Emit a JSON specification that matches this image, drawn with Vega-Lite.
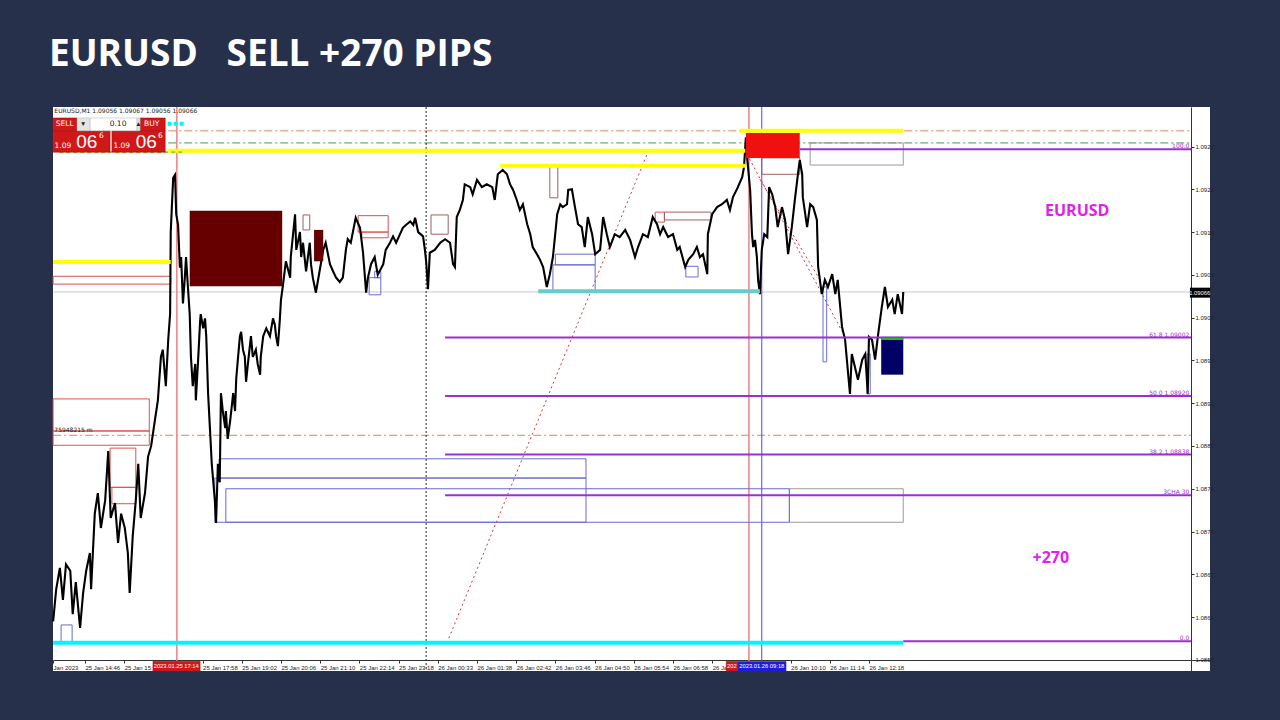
{
"$schema": "https://vega.github.io/schema/vega-lite/v6.json",
"width": 1157, "height": 564,
"autosize": "none",
"padding": {"left": 53, "top": 107, "right": 70, "bottom": 49},
"background": "#26304A",
"title": {"text": "EURUSD\u00a0\u00a0 SELL +270 PIPS", "anchor": "start", "color": "#FFFFFF", "font": "Open Sans", "fontSize": 37, "fontWeight": "bold", "offset": 3, "baseline": "alphabetic", "frame": "bounds"},
"config": {"view": {"fill": "#FFFFFF", "stroke": null}},
"datasets": {
"price": [
{"bar":12,"price":1.08604},{"bar":17,"price":1.08649},{"bar":23,"price":1.08679},{"bar":28,"price":1.08634},{"bar":33,"price":1.08684},{"bar":40,"price":1.08675},{"bar":44,"price":1.08614},{"bar":49,"price":1.08659},{"bar":56,"price":1.08595},{"bar":61,"price":1.08644},{"bar":66,"price":1.08675},{"bar":72,"price":1.087},{"bar":74,"price":1.08649},{"bar":80,"price":1.08755},{"bar":85,"price":1.08784},{"bar":90,"price":1.08735},{"bar":97,"price":1.08774},{"bar":102,"price":1.08843},{"bar":106,"price":1.08749},{"bar":113,"price":1.0877},{"bar":118,"price":1.08714},{"bar":123,"price":1.08755},{"bar":129,"price":1.08735},{"bar":134,"price":1.087},{"bar":137,"price":1.08644},{"bar":142,"price":1.08724},{"bar":147,"price":1.08774},{"bar":151,"price":1.08825},{"bar":155,"price":1.08749},{"bar":162,"price":1.08784},{"bar":167,"price":1.08835},{"bar":172,"price":1.0885},{"bar":178,"price":1.08885},{"bar":183,"price":1.08914},{"bar":188,"price":1.08975},{"bar":191,"price":1.08985},{"bar":196,"price":1.08934},{"bar":200,"price":1.09},{"bar":203,"price":1.09035},{"bar":204,"price":1.0915},{"bar":208,"price":1.09226},{"bar":211,"price":1.0923},{"bar":213,"price":1.09175},{"bar":216,"price":1.0916},{"bar":219,"price":1.091},{"bar":221,"price":1.09115},{"bar":224,"price":1.0905},{"bar":227,"price":1.09086},{"bar":229,"price":1.09115},{"bar":232,"price":1.09074},{"bar":235,"price":1.09035},{"bar":237,"price":1.08975},{"bar":240,"price":1.08934},{"bar":244,"price":1.08965},{"bar":245,"price":1.08914},{"bar":249,"price":1.08975},{"bar":252,"price":1.09025},{"bar":253,"price":1.09035},{"bar":257,"price":1.09015},{"bar":260,"price":1.09029},{"bar":262,"price":1.09004},{"bar":265,"price":1.08924},{"bar":268,"price":1.08875},{"bar":271,"price":1.08825},{"bar":276,"price":1.08774},{"bar":278,"price":1.08742},
{"bar":281,"price":1.08825},{"bar":284,"price":1.08799},{"bar":286,"price":1.08924},{"bar":289,"price":1.08899},{"bar":293,"price":1.08875},{"bar":294,"price":1.08899},{"bar":297,"price":1.0886},{"bar":301,"price":1.08885},{"bar":306,"price":1.08924},{"bar":309,"price":1.08899},{"bar":311,"price":1.08945},{"bar":314,"price":1.08975},{"bar":317,"price":1.09004},{"bar":319,"price":1.0901},{"bar":322,"price":1.08985},{"bar":325,"price":1.08975},{"bar":327,"price":1.0894},{"bar":330,"price":1.08965},{"bar":335,"price":1.09004},{"bar":338,"price":1.08975},{"bar":343,"price":1.08985},{"bar":346,"price":1.08965},{"bar":350,"price":1.0895},{"bar":351,"price":1.08975},{"bar":355,"price":1.09004},{"bar":360,"price":1.09015},{"bar":366,"price":1.09004},{"bar":371,"price":1.09029},{"bar":374,"price":1.0902},{"bar":376,"price":1.09004},{"bar":379,"price":1.0899},{"bar":382,"price":1.09025},{"bar":384,"price":1.09055},{"bar":387,"price":1.09074},{"bar":392,"price":1.09109},{"bar":399,"price":1.09086},{"bar":400,"price":1.09115},{"bar":407,"price":1.09175},{"bar":409,"price":1.09125},{"bar":415,"price":1.0915},{"bar":417,"price":1.09115},{"bar":420,"price":1.09135},{"bar":425,"price":1.09095},{"bar":431,"price":1.09135},{"bar":433,"price":1.09105},{"bar":436,"price":1.09086},{"bar":441,"price":1.09065},{"bar":448,"price":1.091},{"bar":453,"price":1.09125},{"bar":457,"price":1.09135},{"bar":464,"price":1.09105},{"bar":469,"price":1.09095},{"bar":474,"price":1.09086},{"bar":480,"price":1.0908},{"bar":485,"price":1.09086},{"bar":490,"price":1.09125},{"bar":493,"price":1.0914},{"bar":498,"price":1.09135},{"bar":506,"price":1.0917},{"bar":513,"price":1.09156},{"bar":518,"price":1.09121},{"bar":523,"price":1.09065},{"bar":526,"price":1.09086},{"bar":531,"price":1.09105},{"bar":537,"price":1.09115},{"bar":542,"price":1.0909},{"bar":551,"price":1.09105},{"bar":555,"price":1.09125},{"bar":562,"price":1.09135},{"bar":567,"price":1.09144},{"bar":572,"price":1.09135},{"bar":583,"price":1.09156},{"bar":588,"price":1.0916},{"bar":595,"price":1.09165},{"bar":600,"price":1.0916},{"bar":603,"price":1.0917},{"bar":608,"price":1.0915},{"bar":616,"price":1.09144},{"bar":619,"price":1.09125},{"bar":621,"price":1.09109},{"bar":624,"price":1.0907},{"bar":627,"price":1.09121},{"bar":635,"price":1.09125},{"bar":644,"price":1.09135},{"bar":652,"price":1.0914},{"bar":660,"price":1.09135},{"bar":665,"price":1.09105},
{"bar":668,"price":1.09101},{"bar":671,"price":1.09171},{"bar":676,"price":1.09181},{"bar":681,"price":1.09195},{"bar":684,"price":1.09217},{"bar":693,"price":1.09213},{"bar":697,"price":1.09203},{"bar":704,"price":1.09223},{"bar":712,"price":1.09213},{"bar":720,"price":1.09217},{"bar":729,"price":1.09213},{"bar":733,"price":1.09195},{"bar":738,"price":1.09231},{"bar":746,"price":1.09237},{"bar":753,"price":1.09231},{"bar":758,"price":1.09217},{"bar":763,"price":1.09209},{"bar":769,"price":1.09195},{"bar":774,"price":1.09181},{"bar":779,"price":1.09189},{"bar":786,"price":1.09161},{"bar":791,"price":1.09147},{"bar":795,"price":1.09129},{"bar":802,"price":1.09119},{"bar":807,"price":1.09111},{"bar":812,"price":1.09101},{"bar":818,"price":1.09073},{"bar":823,"price":1.09091},{"bar":828,"price":1.09115},{"bar":835,"price":1.09175},{"bar":840,"price":1.09189},{"bar":844,"price":1.09185},{"bar":851,"price":1.09189},{"bar":853,"price":1.09209},{"bar":859,"price":1.0921},{"bar":864,"price":1.09185},{"bar":869,"price":1.09161},{"bar":875,"price":1.09157},{"bar":880,"price":1.09129},{"bar":885,"price":1.09171},{"bar":892,"price":1.09147},{"bar":897,"price":1.09119},{"bar":905,"price":1.09125},{"bar":910,"price":1.09171},{"bar":916,"price":1.09147},{"bar":921,"price":1.09129},{"bar":929,"price":1.09147},{"bar":937,"price":1.09143},{"bar":946,"price":1.09153},{"bar":954,"price":1.09139},{"bar":962,"price":1.09115},{"bar":967,"price":1.09129},{"bar":975,"price":1.09147},{"bar":983,"price":1.09143},{"bar":991,"price":1.09171},{"bar":998,"price":1.09161},{"bar":1003,"price":1.09147},{"bar":1008,"price":1.09157},{"bar":1016,"price":1.09143},{"bar":1024,"price":1.09147},{"bar":1031,"price":1.09125},{"bar":1035,"price":1.09129},{"bar":1044,"price":1.09101},{"bar":1049,"price":1.09111},{"bar":1057,"price":1.09119},{"bar":1063,"price":1.09129},{"bar":1068,"price":1.09115},{"bar":1073,"price":1.09119},{"bar":1080,"price":1.09091},{"bar":1081,"price":1.09147},{"bar":1088,"price":1.09175},{"bar":1096,"price":1.09185},{"bar":1104,"price":1.09189},{"bar":1112,"price":1.09195},{"bar":1117,"price":1.09181},{"bar":1122,"price":1.09199},{"bar":1130,"price":1.09213},{"bar":1137,"price":1.09227},{"bar":1140,"price":1.09241},{"bar":1143,"price":1.09283},{"bar":1145,"price":1.09255},{"bar":1150,"price":1.09209},{"bar":1153,"price":1.09147},{"bar":1155,"price":1.09129},{"bar":1158,"price":1.09139},{"bar":1161,"price":1.09115},{"bar":1163,"price":1.09083},{"bar":1166,"price":1.09063},{"bar":1169,"price":1.09125},{"bar":1173,"price":1.09147},{"bar":1178,"price":1.09143},{"bar":1181,"price":1.09213},{"bar":1186,"price":1.09203},{"bar":1191,"price":1.09185},{"bar":1195,"price":1.09157},{"bar":1202,"price":1.09185},{"bar":1207,"price":1.09167},{"bar":1212,"price":1.09119},{"bar":1218,"price":1.09157},{"bar":1223,"price":1.09195},{"bar":1228,"price":1.09231},{"bar":1231,"price":1.09251},{"bar":1235,"price":1.09231},{"bar":1236,"price":1.09199},{"bar":1243,"price":1.09157},{"bar":1248,"price":1.09189},{"bar":1253,"price":1.09185},{"bar":1259,"price":1.09167},{"bar":1261,"price":1.09101},{"bar":1267,"price":1.09063},{"bar":1272,"price":1.09083},{"bar":1277,"price":1.09073},{"bar":1284,"price":1.09091},{"bar":1289,"price":1.09063},{"bar":1293,"price":1.09083},{"bar":1300,"price":1.09017},{"bar":1305,"price":1.08999},{"bar":1310,"price":1.08951},{"bar":1313,"price":1.08923},{"bar":1316,"price":1.08979},{"bar":1321,"price":1.08961},{"bar":1326,"price":1.08943},{"bar":1333,"price":1.08971},{"bar":1338,"price":1.08979},{"bar":1342,"price":1.08923},{"bar":1344,"price":1.09003},{"bar":1349,"price":1.08999},{"bar":1354,"price":1.08971},{"bar":1359,"price":1.09007},{"bar":1365,"price":1.09045},{"bar":1370,"price":1.09073},{"bar":1375,"price":1.09045},{"bar":1382,"price":1.09055},{"bar":1386,"price":1.09035},{"bar":1391,"price":1.09063},{"bar":1398,"price":1.09035},{"bar":1400,"price":1.09066}
],
"levels": [
{"x1":12,"x2":1870,"price":1.09066,"kind":"gray"},
{"x1":200,"x2":1870,"price":1.09292,"kind":"orange"},
{"x1":12,"x2":1870,"price":1.08865,"kind":"orange"},
{"x1":200,"x2":1870,"price":1.09275,"kind":"greendd"},
{"x1":22,"x2":227,"price":1.09262,"kind":"lime"},
{"x1":200,"x2":1142,"price":1.09264,"kind":"yellow"},
{"x1":1133,"x2":1400,"price":1.09292,"kind":"yellow"},
{"x1":742,"x2":1142,"price":1.09243,"kind":"yellow"},
{"x1":12,"x2":204,"price":1.09108,"kind":"yellow"},
{"x1":12,"x2":1400,"price":1.08574,"kind":"cyan"},
{"x1":199,"x2":227,"price":1.09302,"kind":"cyandash"},
{"x1":804,"x2":1166,"price":1.09067,"kind":"teal"},
{"x1":1231,"x2":1870,"price":1.09266,"kind":"purple"},
{"x1":652,"x2":1870,"price":1.09002,"kind":"purple"},
{"x1":652,"x2":1870,"price":1.0892,"kind":"purple"},
{"x1":652,"x2":1870,"price":1.08838,"kind":"purple"},
{"x1":652,"x2":1870,"price":1.08781,"kind":"purple"},
{"x1":1400,"x2":1870,"price":1.08576,"kind":"purple"},
{"x1":1364,"x2":1400,"price":1.09,"kind":"green"}
],
"vlines": [
{"bar":214,"kind":"red"},{"bar":1148,"kind":"red"},{"bar":1169,"kind":"blue"},{"bar":621,"kind":"dot"}
],
"diag": [
{"x1":655,"p1":1.08574,"x2":983,"p2":1.09262},
{"x1":1145,"p1":1.09259,"x2":1305,"p2":1.09003},
{"x1":1166,"p1":1.09224,"x2":1264,"p2":1.09083}
],
"boxes": [
{"b1":235,"b2":386,"p1":1.0918,"p2":1.09074,"kind":"maroon"},
{"b1":438,"b2":453,"p1":1.09153,"p2":1.09109,"kind":"maroon"},
{"b1":1143,"b2":1231,"p1":1.09289,"p2":1.09254,"kind":"red"},
{"b1":1364,"b2":1400,"p1":1.09003,"p2":1.0895,"kind":"navy"},
{"b1":510,"b2":559,"p1":1.09173,"p2":1.0915,"kind":"redline"},
{"b1":516,"b2":559,"p1":1.0915,"p2":1.09142,"kind":"redline"},
{"b1":12,"b2":169,"p1":1.08916,"p2":1.08871,"kind":"redline"},
{"b1":12,"b2":169,"p1":1.08871,"p2":1.08851,"kind":"redline"},
{"b1":105,"b2":147,"p1":1.08847,"p2":1.08792,"kind":"redline"},
{"b1":108,"b2":147,"p1":1.08792,"p2":1.08769,"kind":"redline"},
{"b1":995,"b2":1010,"p1":1.09178,"p2":1.09164,"kind":"redline"},
{"b1":12,"b2":204,"p1":1.09088,"p2":1.09077,"kind":"redline"},
{"b1":420,"b2":431,"p1":1.09174,"p2":1.09153,"kind":"brown"},
{"b1":629,"b2":657,"p1":1.09174,"p2":1.09147,"kind":"brown"},
{"b1":823,"b2":836,"p1":1.09243,"p2":1.09198,"kind":"brown"},
{"b1":1010,"b2":1086,"p1":1.09178,"p2":1.09167,"kind":"brown"},
{"b1":1169,"b2":1231,"p1":1.09254,"p2":1.09231,"kind":"brown"},
{"b1":1248,"b2":1400,"p1":1.09275,"p2":1.09244,"kind":"gray"},
{"b1":1214,"b2":1400,"p1":1.0879,"p2":1.08743,"kind":"gray"},
{"b1":528,"b2":547,"p1":1.09086,"p2":1.09062,"kind":"blue"},
{"b1":537,"b2":547,"p1":1.09095,"p2":1.09086,"kind":"blue"},
{"b1":283,"b2":882,"p1":1.08832,"p2":1.08805,"kind":"blue"},
{"b1":276,"b2":882,"p1":1.08805,"p2":1.08743,"kind":"blue"},
{"b1":294,"b2":1214,"p1":1.0879,"p2":1.08743,"kind":"blue"},
{"b1":832,"b2":897,"p1":1.09119,"p2":1.09104,"kind":"blue"},
{"b1":828,"b2":897,"p1":1.09104,"p2":1.09067,"kind":"blue"},
{"b1":1045,"b2":1065,"p1":1.09102,"p2":1.09087,"kind":"blue"},
{"b1":1269,"b2":1275,"p1":1.09073,"p2":1.08968,"kind":"blue"},
{"b1":1341,"b2":1346,"p1":1.08979,"p2":1.08923,"kind":"blue"},
{"b1":25,"b2":43,"p1":1.08599,"p2":1.08574,"kind":"blue"}
],
"widget": [
{"b1":12,"b2":51,"p1":1.0931,"p2":1.09292,"kind":"red"},
{"b1":51,"b2":72,"p1":1.0931,"p2":1.09292,"kind":"light"},
{"b1":72,"b2":149,"p1":1.0931,"p2":1.09292,"kind":"white"},
{"b1":149,"b2":154,"p1":1.0931,"p2":1.09292,"kind":"light"},
{"b1":154,"b2":195,"p1":1.0931,"p2":1.09292,"kind":"red"},
{"b1":12,"b2":105,"p1":1.09292,"p2":1.09262,"kind":"red"},
{"b1":108,"b2":195,"p1":1.09292,"p2":1.09262,"kind":"red"},
{"b1":175,"b2":252,"p1":1.08548,"p2":1.08534,"kind":"red"},
{"b1":1111,"b2":1130,"p1":1.08548,"p2":1.08534,"kind":"red"},
{"b1":1130,"b2":1209,"p1":1.08548,"p2":1.08534,"kind":"blue"},
{"b1":1868,"b2":1901,"p1":1.09072,"p2":1.09058,"kind":"black"}
],
"texts": [
{"bar":14,"price":1.0932,"text":"EURUSD,M1  1.09056 1.09067 1.09056 1.09066","kind":"header"},
{"bar":14,"price":1.08872,"text":"75948215 m","kind":"header"},
{"bar":31,"price":1.09301,"text":"SELL","kind":"wsmall"},
{"bar":173,"price":1.09301,"text":"BUY","kind":"wsmall"},
{"bar":118,"price":1.09301,"text":"0.10","kind":"wdark"},
{"bar":61,"price":1.09301,"text":"▾","kind":"wdark"},
{"bar":151,"price":1.09301,"text":"▴","kind":"wdark"},
{"bar":28,"price":1.09271,"text":"1.09","kind":"wsmall"},
{"bar":67,"price":1.09276,"text":"06","kind":"wbig"},
{"bar":91,"price":1.09285,"text":"6","kind":"wsmall"},
{"bar":124,"price":1.09271,"text":"1.09","kind":"wsmall"},
{"bar":164,"price":1.09276,"text":"06","kind":"wbig"},
{"bar":187,"price":1.09285,"text":"6","kind":"wsmall"},
{"bar":213,"price":1.08541,"text":"2023.01.25 17:14","kind":"wtiny"},
{"bar":1120,"price":1.08541,"text":"202","kind":"wtiny"},
{"bar":1169,"price":1.08541,"text":"2023.01.26 09:18","kind":"wtiny"},
{"bar":1884,"price":1.09065,"text":"1.09066","kind":"wtiny"},
{"bar":1867,"price":1.09266,"text":"100.0","kind":"fib"},
{"bar":1867,"price":1.09002,"text":"61.8  1.09002","kind":"fib"},
{"bar":1867,"price":1.0892,"text":"50.0  1.08920","kind":"fib"},
{"bar":1867,"price":1.08838,"text":"38.2  1.08838","kind":"fib"},
{"bar":1867,"price":1.08781,"text":"3CHA 30","kind":"fib"},
{"bar":1867,"price":1.08576,"text":"0.0","kind":"fib"},
{"bar":1684,"price":1.0918,"text":"EURUSD","kind":"magenta"},
{"bar":1641,"price":1.08693,"text":"+270","kind":"magenta"}
]
},
"layer": [
{"data": {"name": "levels"}, "transform": [{"filter": "datum.kind === 'gray'"}],
 "mark": {"type": "rule", "color": "#C8C8C8", "strokeWidth": 1},
 "encoding": {
  "x": {"field": "x1", "type": "quantitative", "scale": {"domain": [11.8, 1900.8], "nice": false, "zero": false},
   "axis": {"orient": "bottom", "offset": -11, "title": null, "grid": false, "values": [12, 64, 128, 256, 320, 384, 448, 512, 576, 640, 704, 768, 832, 896, 960, 1024, 1088, 1216, 1280, 1344],
    "labelExpr": "datum.value < 50 ? 'Jan 2023' : ['25 Jan 14:46','25 Jan 15:50','25 Jan 16:54','25 Jan 17:58','25 Jan 19:02','25 Jan 20:06','25 Jan 21:10','25 Jan 22:14','25 Jan 23:18','26 Jan 00:33','26 Jan 01:38','26 Jan 02:42','26 Jan 03:46','26 Jan 04:50','26 Jan 05:54','26 Jan 06:58','26 Jan 08:02','26 Jan 09:06','26 Jan 10:10','26 Jan 11:14','26 Jan 12:18'][round(datum.value / 64) - 1]",
    "labelAlign": "left", "labelBaseline": "top", "labelPadding": 1, "labelFont": "Liberation Sans", "labelFontSize": 6, "labelColor": "#222222", "labelOverlap": false, "labelFlush": false, "labelBound": false,
    "tickSize": 3, "tickColor": "#333333", "domainColor": "#333333", "domainWidth": 1}},
  "x2": {"field": "x2"},
  "y": {"field": "price", "type": "quantitative", "scale": {"domain": [1.085344, 1.093254], "nice": false, "zero": false},
   "axis": {"orient": "right", "offset": -19, "title": null, "grid": false, "values": [1.0855, 1.0858, 1.0861, 1.0864, 1.0867, 1.087, 1.0873, 1.0876, 1.0879, 1.0882, 1.0885, 1.0888, 1.0891, 1.0894, 1.0897, 1.09, 1.0903, 1.0906, 1.0909, 1.0912, 1.0915, 1.0918, 1.0921, 1.0924, 1.0927, 1.093],
    "format": ".4f", "labelPadding": 1, "labelFont": "Liberation Sans", "labelFontSize": 6, "labelColor": "#222222", "labelOverlap": false, "labelBound": false, "labelFlush": false,
    "tickSize": 3, "tickColor": "#333333", "domainColor": "#333333", "domainWidth": 1}}}},
{"data": {"name": "levels"}, "transform": [{"filter": "datum.kind === 'orange'"}],
 "mark": {"type": "rule", "color": "#E8825A", "strokeWidth": 1, "strokeDash": [8, 3, 2, 3]},
 "encoding": {"x": {"field": "x1", "type": "quantitative"}, "x2": {"field": "x2"}, "y": {"field": "price", "type": "quantitative"}}},
{"data": {"name": "levels"}, "transform": [{"filter": "datum.kind === 'greendd'"}],
 "mark": {"type": "rule", "color": "#3A9A5A", "strokeWidth": 1, "strokeDash": [8, 3, 2, 3]},
 "encoding": {"x": {"field": "x1", "type": "quantitative"}, "x2": {"field": "x2"}, "y": {"field": "price", "type": "quantitative"}}},
{"data": {"name": "vlines"}, "transform": [{"filter": "datum.kind === 'red'"}],
 "mark": {"type": "rule", "color": "#F08080", "strokeWidth": 1.5},
 "encoding": {"x": {"field": "bar", "type": "quantitative"}}},
{"data": {"name": "vlines"}, "transform": [{"filter": "datum.kind === 'blue'"}],
 "mark": {"type": "rule", "color": "#4646FF", "strokeWidth": 1},
 "encoding": {"x": {"field": "bar", "type": "quantitative"}}},
{"data": {"name": "vlines"}, "transform": [{"filter": "datum.kind === 'dot'"}],
 "mark": {"type": "rule", "color": "#222222", "strokeWidth": 1, "strokeDash": [2, 2]},
 "encoding": {"x": {"field": "bar", "type": "quantitative"}}},
{"data": {"name": "diag"},
 "mark": {"type": "rule", "color": "#E03030", "strokeWidth": 1, "strokeDash": [2, 3]},
 "encoding": {"x": {"field": "x1", "type": "quantitative"}, "x2": {"field": "x2"}, "y": {"field": "p1", "type": "quantitative"}, "y2": {"field": "p2"}}},
{"data": {"name": "boxes"}, "transform": [{"filter": "datum.kind === 'redline'"}],
 "mark": {"type": "rect", "fill": "transparent", "stroke": "#E05050", "strokeWidth": 1},
 "encoding": {"x": {"field": "b1", "type": "quantitative"}, "x2": {"field": "b2"}, "y": {"field": "p1", "type": "quantitative"}, "y2": {"field": "p2"}}},
{"data": {"name": "boxes"}, "transform": [{"filter": "datum.kind === 'brown'"}],
 "mark": {"type": "rect", "fill": "transparent", "stroke": "#A06060", "strokeWidth": 1},
 "encoding": {"x": {"field": "b1", "type": "quantitative"}, "x2": {"field": "b2"}, "y": {"field": "p1", "type": "quantitative"}, "y2": {"field": "p2"}}},
{"data": {"name": "boxes"}, "transform": [{"filter": "datum.kind === 'gray'"}],
 "mark": {"type": "rect", "fill": "transparent", "stroke": "#A09898", "strokeWidth": 1},
 "encoding": {"x": {"field": "b1", "type": "quantitative"}, "x2": {"field": "b2"}, "y": {"field": "p1", "type": "quantitative"}, "y2": {"field": "p2"}}},
{"data": {"name": "boxes"}, "transform": [{"filter": "datum.kind === 'blue'"}],
 "mark": {"type": "rect", "fill": "transparent", "stroke": "#6A6AD8", "strokeWidth": 1},
 "encoding": {"x": {"field": "b1", "type": "quantitative"}, "x2": {"field": "b2"}, "y": {"field": "p1", "type": "quantitative"}, "y2": {"field": "p2"}}},
{"data": {"name": "price"},
 "mark": {"type": "line", "color": "#000000", "strokeWidth": 2.1, "strokeJoin": "miter"},
 "encoding": {"x": {"field": "bar", "type": "quantitative"}, "y": {"field": "price", "type": "quantitative"}}},
{"data": {"name": "boxes"}, "transform": [{"filter": "datum.kind === 'maroon'"}],
 "mark": {"type": "rect", "color": "#660000"},
 "encoding": {"x": {"field": "b1", "type": "quantitative"}, "x2": {"field": "b2"}, "y": {"field": "p1", "type": "quantitative"}, "y2": {"field": "p2"}}},
{"data": {"name": "boxes"}, "transform": [{"filter": "datum.kind === 'red'"}],
 "mark": {"type": "rect", "color": "#F01010"},
 "encoding": {"x": {"field": "b1", "type": "quantitative"}, "x2": {"field": "b2"}, "y": {"field": "p1", "type": "quantitative"}, "y2": {"field": "p2"}}},
{"data": {"name": "boxes"}, "transform": [{"filter": "datum.kind === 'navy'"}],
 "mark": {"type": "rect", "color": "#000066"},
 "encoding": {"x": {"field": "b1", "type": "quantitative"}, "x2": {"field": "b2"}, "y": {"field": "p1", "type": "quantitative"}, "y2": {"field": "p2"}}},
{"data": {"name": "levels"}, "transform": [{"filter": "datum.kind === 'yellow'"}],
 "mark": {"type": "rule", "color": "#FFFF00", "strokeWidth": 4},
 "encoding": {"x": {"field": "x1", "type": "quantitative"}, "x2": {"field": "x2"}, "y": {"field": "price", "type": "quantitative"}}},
{"data": {"name": "levels"}, "transform": [{"filter": "datum.kind === 'cyan'"}],
 "mark": {"type": "rule", "color": "#00F5FF", "strokeWidth": 4},
 "encoding": {"x": {"field": "x1", "type": "quantitative"}, "x2": {"field": "x2"}, "y": {"field": "price", "type": "quantitative"}}},
{"data": {"name": "levels"}, "transform": [{"filter": "datum.kind === 'cyandash'"}],
 "mark": {"type": "rule", "color": "#00F5FF", "strokeWidth": 4, "strokeDash": [4, 2]},
 "encoding": {"x": {"field": "x1", "type": "quantitative"}, "x2": {"field": "x2"}, "y": {"field": "price", "type": "quantitative"}}},
{"data": {"name": "levels"}, "transform": [{"filter": "datum.kind === 'teal'"}],
 "mark": {"type": "rule", "color": "#66CCCC", "strokeWidth": 4},
 "encoding": {"x": {"field": "x1", "type": "quantitative"}, "x2": {"field": "x2"}, "y": {"field": "price", "type": "quantitative"}}},
{"data": {"name": "levels"}, "transform": [{"filter": "datum.kind === 'purple'"}],
 "mark": {"type": "rule", "color": "#9B30D0", "strokeWidth": 2},
 "encoding": {"x": {"field": "x1", "type": "quantitative"}, "x2": {"field": "x2"}, "y": {"field": "price", "type": "quantitative"}}},
{"data": {"name": "levels"}, "transform": [{"filter": "datum.kind === 'lime'"}],
 "mark": {"type": "rule", "color": "#9ACD32", "strokeWidth": 2, "strokeDash": [4, 3]},
 "encoding": {"x": {"field": "x1", "type": "quantitative"}, "x2": {"field": "x2"}, "y": {"field": "price", "type": "quantitative"}}},
{"data": {"name": "levels"}, "transform": [{"filter": "datum.kind === 'green'"}],
 "mark": {"type": "rule", "color": "#22BB22", "strokeWidth": 2},
 "encoding": {"x": {"field": "x1", "type": "quantitative"}, "x2": {"field": "x2"}, "y": {"field": "price", "type": "quantitative"}}},
{"data": {"name": "widget"}, "transform": [{"filter": "datum.kind === 'red'"}],
 "mark": {"type": "rect", "color": "#D01818", "stroke": "#A00000", "strokeWidth": 0.5},
 "encoding": {"x": {"field": "b1", "type": "quantitative"}, "x2": {"field": "b2"}, "y": {"field": "p1", "type": "quantitative"}, "y2": {"field": "p2"}}},
{"data": {"name": "widget"}, "transform": [{"filter": "datum.kind === 'blue'"}],
 "mark": {"type": "rect", "color": "#1E1ED8"},
 "encoding": {"x": {"field": "b1", "type": "quantitative"}, "x2": {"field": "b2"}, "y": {"field": "p1", "type": "quantitative"}, "y2": {"field": "p2"}}},
{"data": {"name": "widget"}, "transform": [{"filter": "datum.kind === 'black'"}],
 "mark": {"type": "rect", "color": "#000000"},
 "encoding": {"x": {"field": "b1", "type": "quantitative"}, "x2": {"field": "b2"}, "y": {"field": "p1", "type": "quantitative"}, "y2": {"field": "p2"}}},
{"data": {"name": "widget"}, "transform": [{"filter": "datum.kind === 'white'"}],
 "mark": {"type": "rect", "fill": "#FFFFFF", "stroke": "#B0B0B0", "strokeWidth": 0.5},
 "encoding": {"x": {"field": "b1", "type": "quantitative"}, "x2": {"field": "b2"}, "y": {"field": "p1", "type": "quantitative"}, "y2": {"field": "p2"}}},
{"data": {"name": "widget"}, "transform": [{"filter": "datum.kind === 'light'"}],
 "mark": {"type": "rect", "fill": "#E4E4E4", "stroke": "#B0B0B0", "strokeWidth": 0.5},
 "encoding": {"x": {"field": "b1", "type": "quantitative"}, "x2": {"field": "b2"}, "y": {"field": "p1", "type": "quantitative"}, "y2": {"field": "p2"}}},
{"data": {"name": "texts"}, "transform": [{"filter": "datum.kind === 'header'"}],
 "mark": {"type": "text", "align": "left", "baseline": "middle", "font": "DejaVu Sans", "fontSize": 6, "color": "#222222"},
 "encoding": {"x": {"field": "bar", "type": "quantitative"}, "y": {"field": "price", "type": "quantitative"}, "text": {"field": "text"}}},
{"data": {"name": "texts"}, "transform": [{"filter": "datum.kind === 'wsmall'"}],
 "mark": {"type": "text", "align": "center", "baseline": "middle", "font": "DejaVu Sans", "fontSize": 7.5, "color": "#FFFFFF"},
 "encoding": {"x": {"field": "bar", "type": "quantitative"}, "y": {"field": "price", "type": "quantitative"}, "text": {"field": "text"}}},
{"data": {"name": "texts"}, "transform": [{"filter": "datum.kind === 'wdark'"}],
 "mark": {"type": "text", "align": "center", "baseline": "middle", "font": "DejaVu Sans", "fontSize": 7.5, "color": "#222222"},
 "encoding": {"x": {"field": "bar", "type": "quantitative"}, "y": {"field": "price", "type": "quantitative"}, "text": {"field": "text"}}},
{"data": {"name": "texts"}, "transform": [{"filter": "datum.kind === 'wbig'"}],
 "mark": {"type": "text", "align": "center", "baseline": "middle", "font": "Liberation Sans", "fontSize": 19, "color": "#FFFFFF"},
 "encoding": {"x": {"field": "bar", "type": "quantitative"}, "y": {"field": "price", "type": "quantitative"}, "text": {"field": "text"}}},
{"data": {"name": "texts"}, "transform": [{"filter": "datum.kind === 'wtiny'"}],
 "mark": {"type": "text", "align": "center", "baseline": "middle", "font": "Liberation Sans", "fontSize": 5.8, "color": "#FFFFFF"},
 "encoding": {"x": {"field": "bar", "type": "quantitative"}, "y": {"field": "price", "type": "quantitative"}, "text": {"field": "text"}}},
{"data": {"name": "texts"}, "transform": [{"filter": "datum.kind === 'fib'"}],
 "mark": {"type": "text", "align": "right", "baseline": "bottom", "font": "DejaVu Sans", "fontSize": 6, "color": "#9B30D0"},
 "encoding": {"x": {"field": "bar", "type": "quantitative"}, "y": {"field": "price", "type": "quantitative"}, "text": {"field": "text"}}},
{"data": {"name": "texts"}, "transform": [{"filter": "datum.kind === 'magenta'"}],
 "mark": {"type": "text", "align": "center", "baseline": "middle", "font": "Open Sans", "fontWeight": "bold", "fontSize": 16, "color": "#E020F0"},
 "encoding": {"x": {"field": "bar", "type": "quantitative"}, "y": {"field": "price", "type": "quantitative"}, "text": {"field": "text"}}}
]
}
